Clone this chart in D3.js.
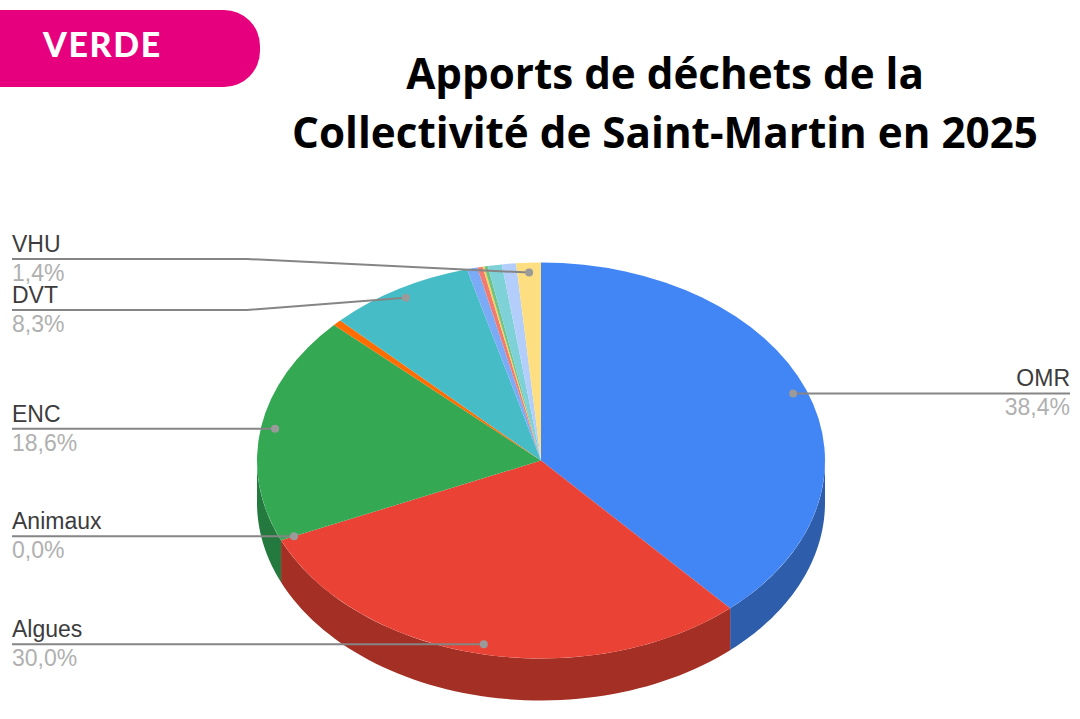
<!DOCTYPE html>
<html lang="fr">

<head>
    <meta charset="UTF-8">
    <title>Apports de déchets</title>
    <style>
        html, body { margin: 0; padding: 0; background: #fff; }
        svg { display: block; }
    </style>
</head>

<body>
    <svg id="chart"></svg>
</body>
<script src="https://d3js.org/d3.v7.min.js"></script>
<script>
    // slices, clockwise from the top
    const categories = ["OMR", "Algues", "Animaux", "ENC", "Métaux", "DVT", "Verre", "Textile", "DEA", "Papier", "Carton", "Gravats", "VHU"];
    const values = [38.4, 30.0, 0.0, 18.6, 0.5, 8.3, 0.6, 0.3, 0.1, 0.2, 0.8, 0.8, 1.4];
    const colors = ["#4285f4", "#ea4335", "#fbbc04", "#34a853", "#ff6d01", "#46bdc6", "#7baaf7", "#f07b72", "#fcd04f", "#71c287", "#7ed1d7", "#b3cefb", "#fdde81"];
    const wallColors = ["#2e5dab", "#a42f25", "#b08403", "#247a3e"];
    const labelled = ["OMR", "Algues", "Animaux", "ENC", "DVT", "VHU"];
    const titleLines = ["Apports de déchets de la", "Collectivité de Saint-Martin en 2025"];

    const width = 1080;
    const height = 719;
    const cx = 541, cy = 460.5, rx = 284, ry = 198, depth = 42;

    const svg = d3.select("#chart").attr("width", width).attr("height", height);

    // badge
    const badgeW = 260, badgeTop = 10, badgeH = 77;
    svg.append("rect")
        .attr("x", -40).attr("y", badgeTop)
        .attr("width", badgeW + 40).attr("height", badgeH)
        .attr("rx", 36).attr("fill", "#e6007e");
    svg.append("text")
        .attr("x", 43).attr("y", 57)
        .attr("font-family", "Lato").attr("font-weight", 900)
        .attr("font-size", 34).attr("letter-spacing", 1.6).attr("fill", "#fff")
        .text("VERDE");

    // title
    svg.selectAll(".title").data(titleLines).join("text")
        .attr("class", "title")
        .attr("x", 665)
        .attr("y", (d, i) => 89 + i * 59)
        .attr("text-anchor", "middle")
        .attr("font-family", "Open Sans").attr("font-weight", 700)
        .attr("font-size", 42.2).attr("fill", "#000")
        .text(d => d);

    const pie = d3.pie().sort(null).value(d => d.value);
    const slices = pie(categories.map((c, i) => ({ name: c, value: values[i], color: colors[i] })));

    const ex = a => cx + rx * Math.sin(a);
    const ey = a => cy - ry * Math.cos(a);

    // side wall, only the front half of the rim can be seen
    const wall = d3.line();
    const walls = svg.append("g");
    slices.slice(0, 4).forEach((s, i) => {
        const a0 = Math.max(s.startAngle, Math.PI / 2);
        const a1 = Math.min(s.endAngle, Math.PI * 1.5);
        if (a1 <= a0) return;
        const n = 60;
        const rim = d3.range(n + 1).map(k => a0 + (a1 - a0) * k / n);
        const pts = rim.map(a => [ex(a), ey(a)])
            .concat(rim.slice().reverse().map(a => [ex(a), ey(a) + depth]));
        walls.append("path").attr("d", wall(pts) + "Z").attr("fill", wallColors[i]);
    });

    // top face: unit pie squeezed into the ellipse
    const arc = d3.arc().innerRadius(0).outerRadius(rx);
    svg.append("g")
        .attr("transform", `translate(${cx},${cy}) scale(1,${ry / rx})`)
        .selectAll("path").data(slices).join("path")
        .attr("d", arc)
        .attr("fill", d => d.data.color);

    // leader lines and labels
    const lineColor = "#858585";
    const elbowX = 247;
    const leftX = 12, rightX = 1070;
    const raised = { VHU: 259, DVT: 310 };

    const labels = svg.append("g");
    slices.filter(s => labelled.includes(s.data.name)).forEach(s => {
        const mid = (s.startAngle + s.endAngle) / 2;
        const dotX = cx + 0.95 * rx * Math.sin(mid);
        const dotY = cy - 0.95 * ry * Math.cos(mid);
        const right = mid < Math.PI;
        const lineY = raised[s.data.name] || dotY;
        const edge = right ? rightX : leftX;

        const pts = raised[s.data.name]
            ? [[edge, lineY], [elbowX, lineY], [dotX, dotY]]
            : [[edge, lineY], [dotX, dotY]];
        labels.append("path")
            .attr("d", d3.line()(pts))
            .attr("fill", "none").attr("stroke", lineColor).attr("stroke-width", 2);
        labels.append("circle")
            .attr("cx", dotX).attr("cy", dotY).attr("r", 4)
            .attr("fill", "#9a9a9a");

        labels.append("text")
            .attr("x", edge).attr("y", lineY - 7)
            .attr("text-anchor", right ? "end" : "start")
            .attr("font-family", "Liberation Sans").attr("font-size", 23)
            .attr("fill", "#3c3c3c")
            .text(s.data.name);
        labels.append("text")
            .attr("x", edge).attr("y", lineY + 22)
            .attr("text-anchor", right ? "end" : "start")
            .attr("font-family", "Liberation Sans").attr("font-size", 23)
            .attr("fill", "#b0b0b0")
            .text(d3.format(".1f")(s.data.value).replace(".", ",") + "%");
    });
</script>

</html>
